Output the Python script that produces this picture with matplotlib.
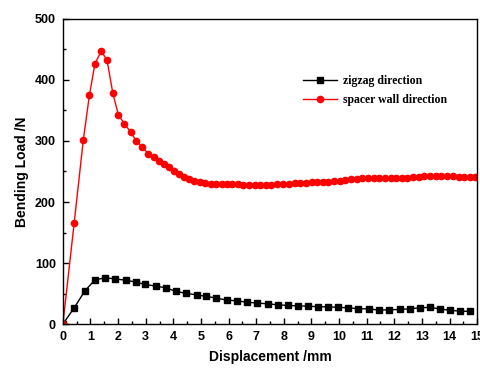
import matplotlib
matplotlib.use("Agg")
import matplotlib.pyplot as plt
from matplotlib.ticker import MultipleLocator

# zigzag direction (black squares)
zig_x = [0, 0.41, 0.79, 1.15, 1.52, 1.89, 2.27, 2.63, 2.98, 3.36, 3.72, 4.10, 4.47, 4.84,
         5.20, 5.56, 5.94, 6.29, 6.65, 7.04, 7.42, 7.78, 8.15, 8.51, 8.88, 9.25, 9.61,
         9.98, 10.34, 10.70, 11.07, 11.43, 11.81, 12.19, 12.56, 12.92, 13.28, 13.64,
         14.01, 14.39, 14.75]
zig_y = [0, 26.7, 54, 72, 76, 74, 72, 69, 65, 62.3, 59.5, 53.6, 50.3, 48, 45.4, 42.6, 39.3,
         38.2, 36, 34.4, 33.3, 31.6, 30.6, 29.9, 29.5, 28.4, 28.4, 27.4, 26.8, 25.1, 25.1,
         23, 23.5, 24, 25.1, 26.8, 27.4, 25.1, 22.5, 21.3, 20.8]

# spacer wall direction (red circles)
spa_x = [0, 0.41, 0.74, 0.96, 1.16, 1.39, 1.60, 1.81, 2.01, 2.23, 2.45, 2.65, 2.87,
         3.10, 3.30, 3.48, 3.66, 3.84, 4.04, 4.21, 4.39, 4.57, 4.76, 4.96, 5.16, 5.36,
         5.55, 5.75, 5.93, 6.13, 6.34, 6.53, 6.74, 6.95, 7.15, 7.36, 7.55, 7.77, 7.98,
         8.18, 8.39, 8.59, 8.80, 9.01, 9.20, 9.41, 9.61, 9.82, 10.02, 10.23, 10.44,
         10.64, 10.84, 11.04, 11.25, 11.45, 11.66, 11.87, 12.06, 12.27, 12.47, 12.68,
         12.88, 13.09, 13.30, 13.50, 13.71, 13.92, 14.12, 14.33, 14.53, 14.73, 14.93]
spa_y = [0, 166, 301.6, 375, 426, 447.5, 432, 378, 342.6, 328, 315, 300.5, 290,
         278.7, 273.3, 267.7, 261.8, 256.9, 251.3, 245.9, 241.5, 237.7, 234.4, 232.3,
         230.7, 230.0, 229.5, 229.5, 229.5, 229.0, 229.0, 228.4, 228.4, 227.9, 227.3,
         227.9, 228.4, 229.0, 229.5, 230.0, 230.6, 231.1, 231.7, 232.2, 232.8, 232.8,
         233.3, 234.4, 235.0, 236.1, 237.2, 238.3, 239.3, 239.9, 239.9, 239.3, 238.8,
         238.8, 238.8, 239.3, 239.9, 240.4, 241.5, 242.1, 242.6, 243.2, 243.2, 242.6,
         242.1, 241.5, 240.9, 240.4, 240.4]

fig = plt.figure(figsize=(4.8, 3.7), dpi=100)
ax = fig.add_axes([0.131, 0.124, 0.863, 0.825])

ax.plot(zig_x, zig_y, color="black", marker="s", markersize=4, linewidth=1,
        label="zigzag direction")
ax.plot(spa_x, spa_y, color="red", marker="o", markersize=4.5, linewidth=1,
        label="spacer wall direction")

ax.set_xlim(0, 15)
ax.set_ylim(0, 500)
ax.xaxis.set_major_locator(MultipleLocator(1))
ax.xaxis.set_minor_locator(MultipleLocator(0.5))
ax.yaxis.set_major_locator(MultipleLocator(100))
ax.yaxis.set_minor_locator(MultipleLocator(50))
ax.tick_params(which="both", direction="in", top=False, right=False)
ax.tick_params(which="major", length=4, width=1, labelsize=9, pad=5)
ax.tick_params(which="minor", length=2, width=1)
for lbl in ax.get_xticklabels() + ax.get_yticklabels():
    lbl.set_fontweight("bold")
    lbl.set_family("Liberation Sans")

for s in ax.spines.values():
    s.set_linewidth(1)

ax.set_xlabel("Displacement /mm", fontsize=10, fontweight="bold",
              family="Liberation Sans", labelpad=5)
ax.set_ylabel("Bending Load /N", fontsize=10, fontweight="bold",
              family="Liberation Sans", labelpad=4)

leg = ax.legend(loc="upper left", bbox_to_anchor=(0.58, 0.815), frameon=False,
                borderpad=0, borderaxespad=0,
                prop={"family": "Liberation Serif", "weight": "bold", "size": 8.5},
                handlelength=2.9, handletextpad=0.45, labelspacing=0.55)

fig.savefig("out.png", dpi=100)
